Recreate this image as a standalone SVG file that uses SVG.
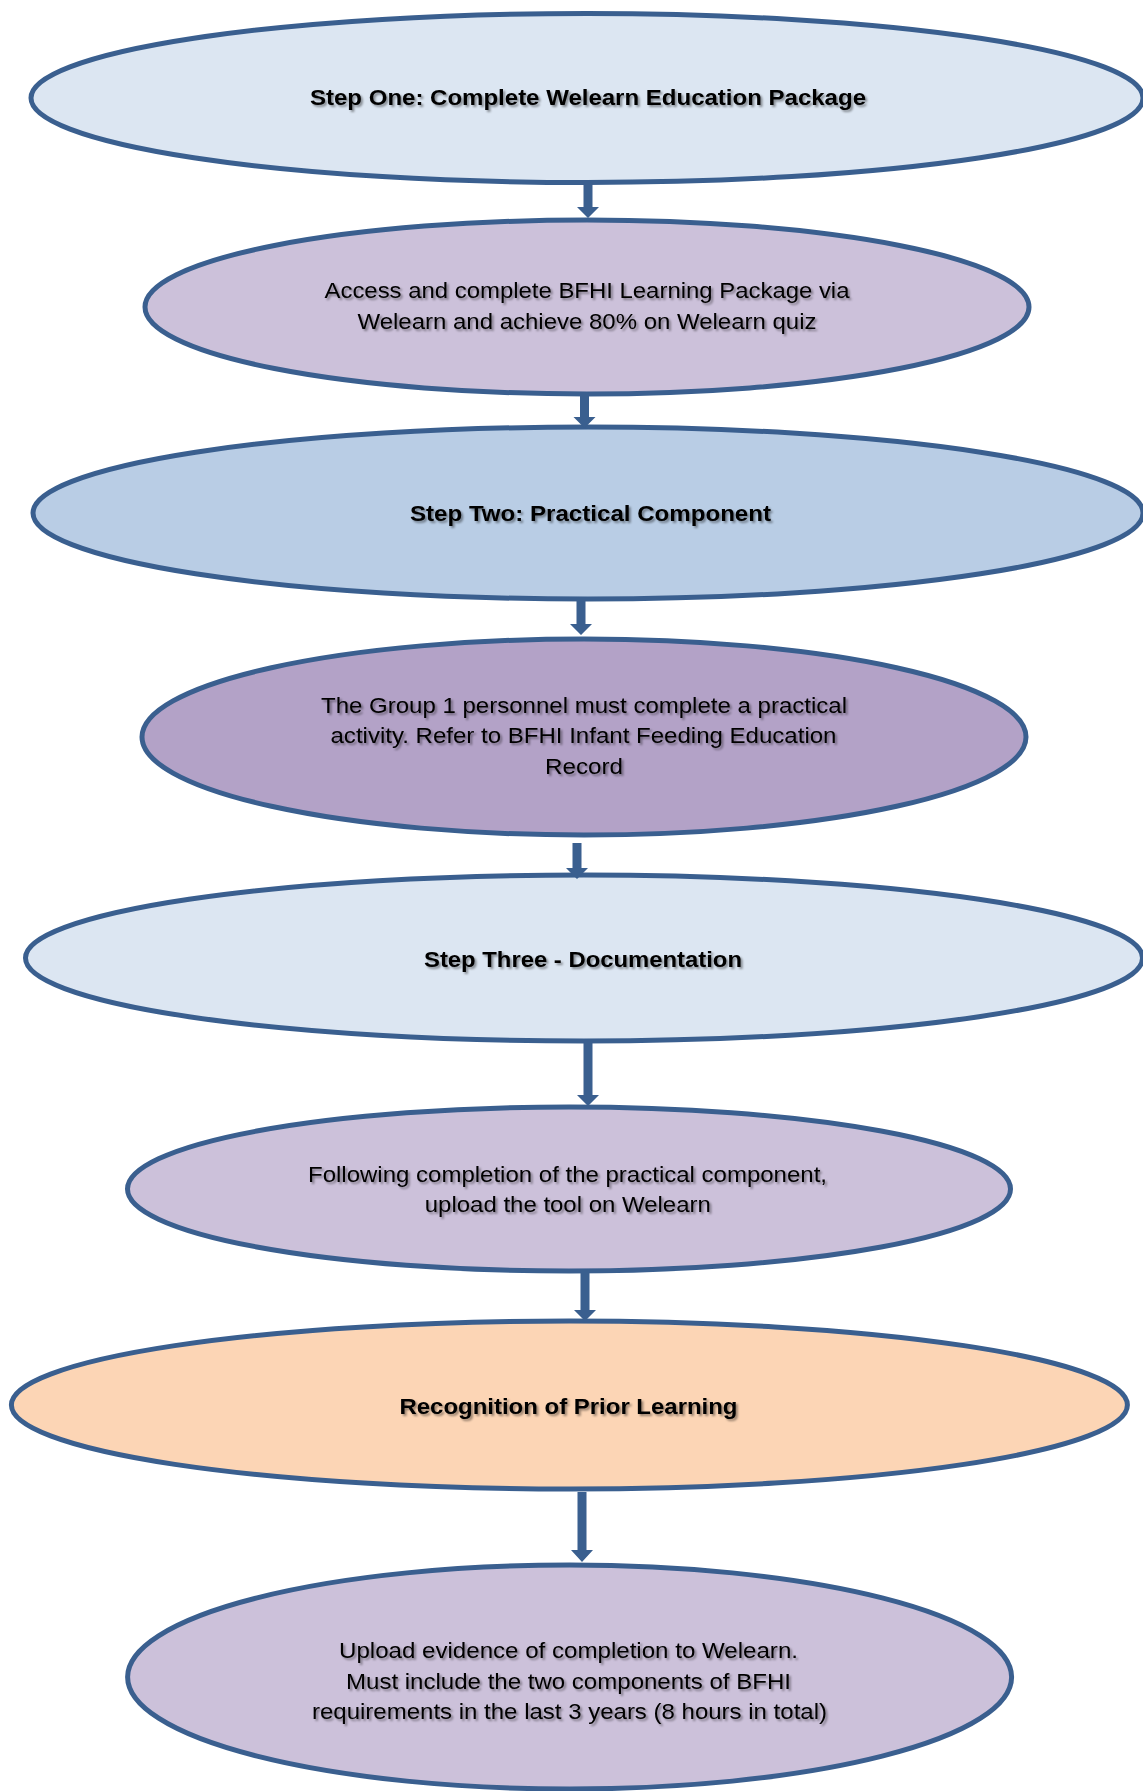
<svg xmlns="http://www.w3.org/2000/svg" width="1143" height="1791" viewBox="0 0 1143 1791">
<style>
.node{stroke:#3A5F8F;stroke-width:5}
.t{font-family:"Liberation Sans",Arial,sans-serif;font-size:22px;fill:#000;text-anchor:middle;filter:url(#sh)}
.b{font-weight:bold}
.arrow{fill:#3A5F8F}
</style>
<defs>
<filter id="sh" x="-5%" y="-30%" width="110%" height="160%">
<feDropShadow dx="2" dy="2" stdDeviation="1.2" flood-color="#000" flood-opacity="0.4"/>
</filter>
</defs>
<rect width="1143" height="1791" fill="#fff"/>
<g id="n1">
<ellipse class="node" cx="587" cy="98" rx="556" ry="84.5" fill="#DCE6F2"/>
<text class="t b" x="588" y="105" textLength="556" lengthAdjust="spacingAndGlyphs">Step One: Complete Welearn Education Package</text>
</g>
<g id="n2">
<ellipse class="node" cx="587" cy="307" rx="442" ry="87" fill="#CCC1DA"/>
<text class="t" x="587" y="298" textLength="525" lengthAdjust="spacingAndGlyphs">Access and complete BFHI Learning Package via</text>
<text class="t" x="587" y="329" textLength="459" lengthAdjust="spacingAndGlyphs">Welearn and achieve 80% on Welearn quiz</text>
</g>
<g id="n3">
<ellipse class="node" cx="588" cy="513" rx="555" ry="86" fill="#B9CDE5"/>
<text class="t b" x="590.5" y="521" textLength="361" lengthAdjust="spacingAndGlyphs">Step Two: Practical Component</text>
</g>
<g id="n4">
<ellipse class="node" cx="584" cy="737" rx="442" ry="98" fill="#B3A2C7"/>
<text class="t" x="584" y="712.5" textLength="526" lengthAdjust="spacingAndGlyphs">The Group 1 personnel must complete a practical</text>
<text class="t" x="583.5" y="743" textLength="506" lengthAdjust="spacingAndGlyphs">activity. Refer to BFHI Infant Feeding Education</text>
<text class="t" x="584" y="774" textLength="78" lengthAdjust="spacingAndGlyphs">Record</text>
</g>
<g id="n5">
<ellipse class="node" cx="584" cy="958" rx="558.5" ry="83" fill="#DCE6F2"/>
<text class="t b" x="583" y="966.5" textLength="318" lengthAdjust="spacingAndGlyphs">Step Three - Documentation</text>
</g>
<g id="n6">
<ellipse class="node" cx="569" cy="1189" rx="441.5" ry="82" fill="#CCC1DA"/>
<text class="t" x="567.5" y="1181.5" textLength="519" lengthAdjust="spacingAndGlyphs">Following completion of the practical component,</text>
<text class="t" x="567.8" y="1211.5" textLength="286" lengthAdjust="spacingAndGlyphs">upload the tool on Welearn</text>
</g>
<g id="n7">
<ellipse class="node" cx="569.4" cy="1405" rx="558" ry="84" fill="#FCD5B5"/>
<text class="t b" x="568.5" y="1414" textLength="338" lengthAdjust="spacingAndGlyphs">Recognition of Prior Learning</text>
</g>
<g id="n8">
<ellipse class="node" cx="569.6" cy="1677" rx="442" ry="112" fill="#CCC1DA"/>
<text class="t" x="568.5" y="1658" textLength="459" lengthAdjust="spacingAndGlyphs">Upload evidence of completion to Welearn.</text>
<text class="t" x="568.5" y="1689" textLength="445" lengthAdjust="spacingAndGlyphs">Must include the two components of BFHI</text>
<text class="t" x="569.5" y="1719" textLength="515" lengthAdjust="spacingAndGlyphs">requirements in the last 3 years (8 hours in total)</text>
</g>
<g id="connectors">
<polygon class="arrow" points="583.5,183 592.5,183 592.5,207 599,207 588,218 577,207 583.5,207"/>
<polygon class="arrow" points="580,394 589,394 589,417 595.5,417 584.5,428 573.5,417 580,417"/>
<polygon class="arrow" points="576.5,600 585.5,600 585.5,624 592,624 581,635 570,624 576.5,624"/>
<polygon class="arrow" points="572.5,843 581.5,843 581.5,868 588,868 577,879 566,868 572.5,868"/>
<polygon class="arrow" points="583.5,1041 592.5,1041 592.5,1095 599,1095 588,1106 577,1095 583.5,1095"/>
<polygon class="arrow" points="580.5,1269 589.5,1269 589.5,1310 596,1310 585,1321 574,1310 580.5,1310"/>
<polygon class="arrow" points="577.5,1492 586.5,1492 586.5,1550 593,1550 582,1562 571,1550 577.5,1550"/>
</g>
</svg>
